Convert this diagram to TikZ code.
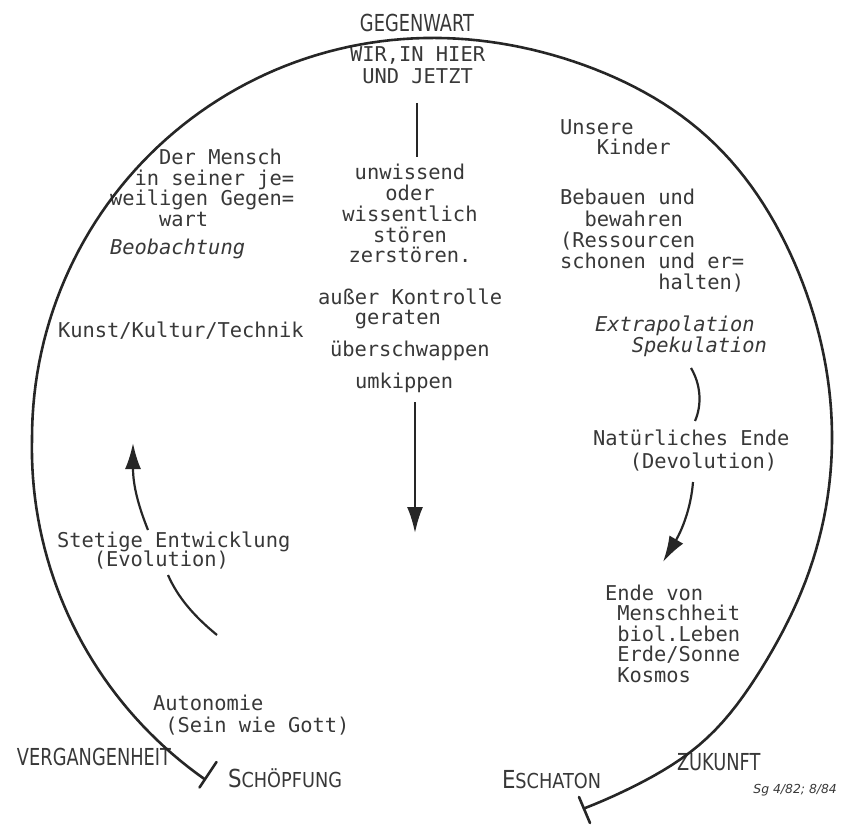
\documentclass[tikz,border=0pt]{standalone}
\usepackage{fontspec}
\usetikzlibrary{arrows.meta}
\newfontfamily\tw{DejaVu Sans Mono}
\newfontfamily\headfont[FakeStretch=0.76]{DejaVu Sans}
\newfontfamily\scfont[FakeStretch=0.86]{DejaVu Sans}
\newfontfamily\notefont{DejaVu Sans}
\definecolor{ink}{HTML}{262626}
\definecolor{txt}{HTML}{383838}
\newcommand\ind[1]{\kern#1\fontcharwd\font`\x\relax}
\newcommand\blk[2]{\vtop{\baselineskip=#1\relax\lineskiplimit=-100pt\halign{##\hfil\cr#2\crcr}}}
\newcommand\cblk[2]{\vtop{\baselineskip=#1\relax\lineskiplimit=-100pt\halign{\hfil##\hfil\cr#2\crcr}}}
\frenchspacing
\begin{document}
\begin{tikzpicture}[x=0.5pt,y=-0.5pt,
  tx/.style={inner sep=0pt, outer sep=0pt, text=txt, font=\tw\fontsize{10.2}{12}\selectfont},
  hd/.style={inner sep=0pt, outer sep=0pt, text=txt, font=\headfont\fontsize{11.7}{14}\selectfont},
  sc/.style={inner sep=0pt, outer sep=0pt, text=txt, font=\scfont},
  conn/.style={draw=ink, line width=1.1pt},
  arr/.style={conn, -{Latex[length=13pt,width=8pt]}},
  bigarc/.style={draw=ink, line width=1.3pt, line cap=round, line join=round}]
\useasboundingbox (0,0) rectangle (841,834);

% headings
\node[hd, anchor=base] (gegen) at (417,32) {GEGENWART};
\node[hd, anchor=base west] (verg) at (17,765) {VERGANGENHEIT};
\node[hd, anchor=base west] (zuk) at (677,770) {ZUKUNFT};
\node[sc, anchor=base west] (schoepf) at (228,787) {{\fontsize{12.4}{14}\selectfont S}{\fontsize{10.3}{12}\selectfont CHÖPFUNG}};
\node[sc, anchor=base west] (esch) at (502,788) {{\fontsize{12.4}{14}\selectfont E}{\fontsize{10.3}{12}\selectfont SCHATON}};

% top / centre
\node[tx, anchor=base west] (wir) at (350,62) {\blk{11pt}{WIR,IN HIER\cr\ind1UND JETZT}};
\coordinate (v1) at (417,103); \coordinate (v2) at (417,157);
\draw[conn] (v1) -- (v2);
\node[tx, anchor=base] (unw) at (410,180) {\cblk{10.35pt}{unwissend\cr oder\cr wissentlich\cr stören\cr zerstören.}};
\node[tx, anchor=base west] (auss) at (318,305) {\blk{10pt}{außer Kontrolle\cr\ind3geraten}};
\node[tx, anchor=base west] (ueber) at (330,357) {überschwappen};
\node[tx, anchor=base west] (umk) at (355,388) {umkippen};
\coordinate (d1) at (415,402); \coordinate (d2) at (415,533);
\draw[arr] (d1) -- (d2);

% left
\node[tx, anchor=base west] (mensch) at (110,165) {\blk{10.2pt}{\ind4Der Mensch\cr\ind2in seiner je=\cr weiligen Gegen=\cr\ind4wart}};
\node[tx, anchor=base west] (beob) at (110,255) {\itshape Beobachtung};
\node[tx, anchor=base west] (kunst) at (58,338) {Kunst/Kultur/Technik};
\coordinate (e1) at (148,530); \coordinate (e2) at (133,443);
\draw[arr] (e1) .. controls (138,505) and (133,485) .. (e2);
\node[tx, anchor=base west] (stet) at (57,547) {\blk{9.5pt}{Stetige Entwicklung\cr\ind3(Evolution)}};
\coordinate (s1) at (168,575); \coordinate (s2) at (217,635);
\draw[conn] (s1) .. controls (178,598) and (195,617) .. (s2);
\node[tx, anchor=base west] (auto) at (153,710) {\blk{11pt}{Autonomie\cr\ind1(Sein wie Gott)}};

% right
\node[tx, anchor=base west] (unsere) at (560,135) {\blk{10pt}{Unsere\cr\ind3Kinder}};
\node[tx, anchor=base west] (bebau) at (560,205) {\blk{10.6pt}{Bebauen und\cr\ind2bewahren\cr(Ressourcen\cr schonen und er=\cr\ind8halten)}};
\node[tx, anchor=base west] (extra) at (595,332) {\itshape\blk{10pt}{Extrapolation\cr\ind3Spekulation}};
\coordinate (r1) at (691,368); \coordinate (r2) at (695,421);
\draw[conn] (r1) .. controls (701,385) and (702,405) .. (r2);
\node[tx, anchor=base west] (nat) at (593,445) {\blk{11.5pt}{Natürliches Ende\cr\ind3(Devolution)}};
\coordinate (n1) at (693,482); \coordinate (n2) at (663,562);
\draw[arr] (n1) .. controls (691,508) and (682,530) .. (n2);
\node[tx, anchor=base west] (ende) at (605,600) {\blk{10.25pt}{Ende von\cr\ind1Menschheit\cr\ind1biol.Leben\cr\ind1Erde/Sonne\cr\ind1Kosmos}};
\node[anchor=base west, inner sep=0pt, text=txt, font=\notefont\itshape\fontsize{6.2}{7}\selectfont] (note) at (753,793) {Sg 4/82; 8/84};

% the big arc (Schöpfung -> Gegenwart -> Eschaton) with bar ends
\draw[bigarc]
  plot[domain=123.7:180, samples=40, variable=\t]
    ({432+(400+10*(180-\t)/56.3)*cos(\t)},{438+(400+10*(180-\t)/56.3)*sin(\t)})
  -- plot[domain=180:427.7, samples=160, variable=\t]
    ({432+(400+8*exp(-(((\t-313)/20)^2))+7*exp(-(((\t-408)/12)^2)))*cos(\t)},{438+(400+8*exp(-(((\t-313)/20)^2))+7*exp(-(((\t-408)/12)^2)))*sin(\t)});
\coordinate (sb1) at (199.5,787.5); \coordinate (sb2) at (216.5,762);
\draw[bigarc] (sb1) -- (sb2);
\coordinate (eb1) at (579,797); \coordinate (eb2) at (590,823);
\draw[bigarc] (eb1) -- (eb2);
\end{tikzpicture}
\end{document}
